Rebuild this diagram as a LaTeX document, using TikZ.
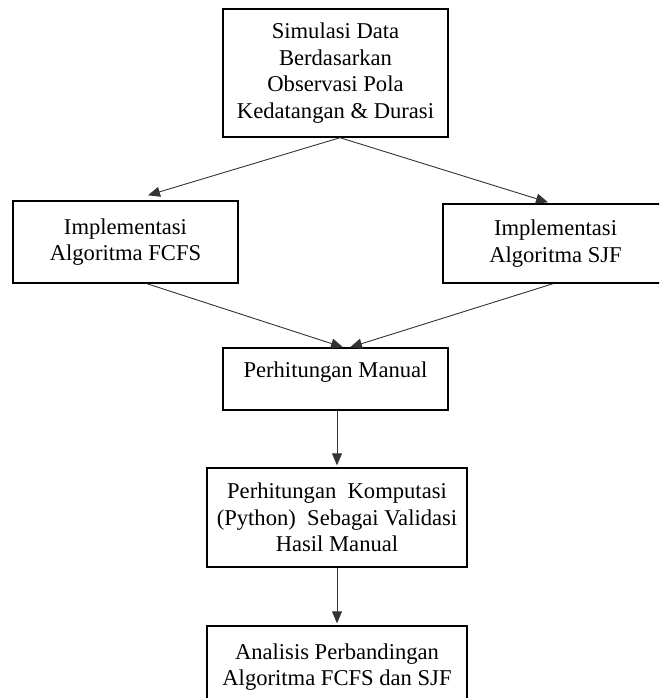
\documentclass[tikz,border=0pt]{standalone}
\usepackage{fontspec}
\setmainfont{Liberation Serif}
\usetikzlibrary{arrows.meta}

\tikzset{
	kotak/.style={draw, line width=1.4pt, align=center, inner sep=0pt, font=\fontsize{22.6}{26.7}\selectfont},
	panah/.style={-{Triangle[length=12pt, width=10pt]}, line width=0.9pt, color=black!80},
}

\begin{document}
\begin{tikzpicture}[x=1pt, y=-1pt]

	\def \lebar{225};
	\def \lebarB{260};

	\useasboundingbox (0,0) rectangle (659,698);
	\clip (0,0) rectangle (659,698);

	% KOTAK
	\node[kotak, minimum width=\lebar, minimum height=128] (simulasi) at (335.5,73) {Simulasi Data\\Berdasarkan\\Observasi Pola\\Kedatangan \& Durasi};
	\node[kotak, minimum width=\lebar, minimum height=82] (fcfs) at (125.5,242) {Implementasi\\Algoritma FCFS};
	\node[kotak, minimum width=\lebar, minimum height=79] (sjf) at (555.5,243.5) {Implementasi\\Algoritma SJF};
	\node[kotak, minimum width=\lebar, minimum height=62, text depth=18pt] (manual) at (335.5,379) {Perhitungan Manual};
	\node[kotak, minimum width=\lebarB, minimum height=99] (komputasi) at (337,517.5) {Perhitungan~ Komputasi\\(Python)~ Sebagai Validasi\\Hasil Manual};
	\node[kotak, minimum width=\lebarB, minimum height=82] (analisis) at (337,667) {Analisis Perbandingan\\Algoritma FCFS dan SJF};

	% PANAH
	\draw[panah] ([xshift=4.5pt]simulasi.south) -- ([xshift=22.5pt, yshift=5pt]fcfs.north);
	\draw[panah] ([xshift=4.5pt]simulasi.south) -- ([xshift=-7.5pt, yshift=1pt]sjf.north);

	\draw[panah] ([xshift=21.5pt]fcfs.south) -- ([xshift=7.5pt]manual.north);
	\draw[panah] ([xshift=-2.5pt]sjf.south) -- ([xshift=14.5pt]manual.north);

	\draw[panah] (komputasi.north |- manual.south) -- ([yshift=2pt]komputasi.north);
	\draw[panah] (komputasi.south) -- ([yshift=2pt]analisis.north);

\end{tikzpicture}
\end{document}
